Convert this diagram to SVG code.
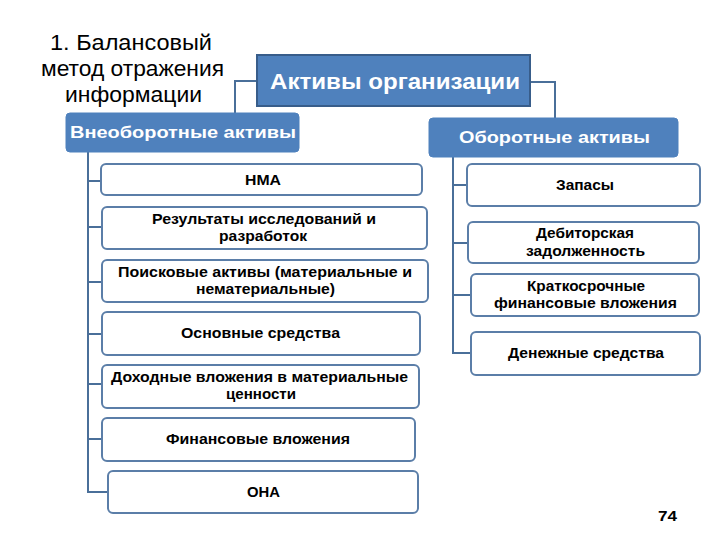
<svg xmlns="http://www.w3.org/2000/svg" width="720" height="540" viewBox="0 0 720 540">
<style>
.title{font-family:"Liberation Sans",Arial,sans-serif;font-size:22px;fill:#000;text-anchor:middle}
.hdr{fill:#4f81bd;stroke:#385d8a;stroke-width:2}
.sub{fill:#4f81bd;stroke:#4f81bd;stroke-width:1}
.htxt{font-family:"Liberation Sans",Arial,sans-serif;font-weight:bold;fill:#fff;text-anchor:middle}
.box{fill:#fff;stroke:#5b7ea8;stroke-width:2}
.btxt{font-family:"Liberation Sans",Arial,sans-serif;font-weight:bold;font-size:14px;fill:#000;text-anchor:middle}
.con{fill:none;stroke:#4a6f99;stroke-width:2}
</style>
<rect width="720" height="540" fill="#fff"/>
<g id="title">
<text class="title" x="131" y="50" textLength="162" lengthAdjust="spacingAndGlyphs">1. Балансовый</text>
<text class="title" x="132.5" y="76" textLength="183" lengthAdjust="spacingAndGlyphs">метод отражения</text>
<text class="title" x="133.5" y="102" textLength="137" lengthAdjust="spacingAndGlyphs">информации</text>
</g>
<g id="connectors">
<path class="con" d="M257,81 H235 V114"/>
<path class="con" d="M530,82 H555 V118"/>
<path class="con" d="M88,152 V492 H108"/>
<path class="con" d="M88,181 H101 M88,227 H102 M88,282 H102 M88,334 H102 M88,384 H102 M88,439 H102"/>
<path class="con" d="M453,157 V353 H471"/>
<path class="con" d="M453,185 H467 M453,243 H468 M453,295 H471"/>
</g>
<g id="root">
<rect class="hdr" x="257" y="55" width="273" height="51"/>
<text class="htxt" x="395" y="89" font-size="22" textLength="250" lengthAdjust="spacingAndGlyphs">Активы организации</text>
</g>
<g id="noncurrent">
<rect class="sub" x="66" y="113" width="233" height="39" rx="4"/>
<text class="htxt" x="183" y="138" font-size="17" textLength="226" lengthAdjust="spacingAndGlyphs">Внеоборотные активы</text>
</g>
<g id="current">
<rect class="sub" x="429" y="118" width="249" height="39" rx="4"/>
<text class="htxt" x="554.5" y="143" font-size="17" textLength="191" lengthAdjust="spacingAndGlyphs">Оборотные активы</text>
</g>
<g id="nma">
<rect class="box" x="101" y="164" width="321" height="31" rx="5"/>
<text class="btxt" x="263" y="185" textLength="36" lengthAdjust="spacingAndGlyphs">НМА</text>
</g>
<g id="rnd">
<rect class="box" x="102" y="207" width="325" height="42" rx="5"/>
<text class="btxt" x="264" y="224" textLength="224" lengthAdjust="spacingAndGlyphs">Результаты исследований и</text>
<text class="btxt" x="263" y="241" textLength="88" lengthAdjust="spacingAndGlyphs">разработок</text>
</g>
<g id="search">
<rect class="box" x="102" y="260" width="326" height="42" rx="5"/>
<text class="btxt" x="265" y="277" textLength="294" lengthAdjust="spacingAndGlyphs">Поисковые активы (материальные и</text>
<text class="btxt" x="265.5" y="294" textLength="139" lengthAdjust="spacingAndGlyphs">нематериальные)</text>
</g>
<g id="fixed">
<rect class="box" x="102" y="312" width="318" height="43" rx="5"/>
<text class="btxt" x="260.5" y="338" textLength="159" lengthAdjust="spacingAndGlyphs">Основные средства</text>
</g>
<g id="income">
<rect class="box" x="102" y="365" width="317" height="43" rx="5"/>
<text class="btxt" x="259.5" y="382" textLength="297" lengthAdjust="spacingAndGlyphs">Доходные вложения в материальные</text>
<text class="btxt" x="261" y="399" textLength="70" lengthAdjust="spacingAndGlyphs">ценности</text>
</g>
<g id="fin">
<rect class="box" x="102" y="418" width="313" height="43" rx="5"/>
<text class="btxt" x="258" y="444" textLength="184" lengthAdjust="spacingAndGlyphs">Финансовые вложения</text>
</g>
<g id="ona">
<rect class="box" x="108" y="471" width="310" height="42" rx="5"/>
<text class="btxt" x="263.5" y="497" textLength="33" lengthAdjust="spacingAndGlyphs">ОНА</text>
</g>
<g id="stock">
<rect class="box" x="467" y="164" width="233" height="42" rx="5"/>
<text class="btxt" x="585" y="190" textLength="58" lengthAdjust="spacingAndGlyphs">Запасы</text>
</g>
<g id="receivable">
<rect class="box" x="468" y="222" width="231" height="41" rx="5"/>
<text class="btxt" x="585" y="238" textLength="98" lengthAdjust="spacingAndGlyphs">Дебиторская</text>
<text class="btxt" x="585.5" y="256" textLength="119" lengthAdjust="spacingAndGlyphs">задолженность</text>
</g>
<g id="shortfin">
<rect class="box" x="471" y="274" width="228" height="42" rx="5"/>
<text class="btxt" x="586" y="291" textLength="118" lengthAdjust="spacingAndGlyphs">Краткосрочные</text>
<text class="btxt" x="585.5" y="308" textLength="183" lengthAdjust="spacingAndGlyphs">финансовые вложения</text>
</g>
<g id="cash">
<rect class="box" x="471" y="332" width="229" height="43" rx="5"/>
<text class="btxt" x="586" y="358" textLength="156" lengthAdjust="spacingAndGlyphs">Денежные средства</text>
</g>
<text x="667.5" y="521" font-family="Liberation Sans,Arial,sans-serif" font-weight="bold" font-size="14" text-anchor="middle" textLength="19" lengthAdjust="spacingAndGlyphs">74</text>
</svg>
